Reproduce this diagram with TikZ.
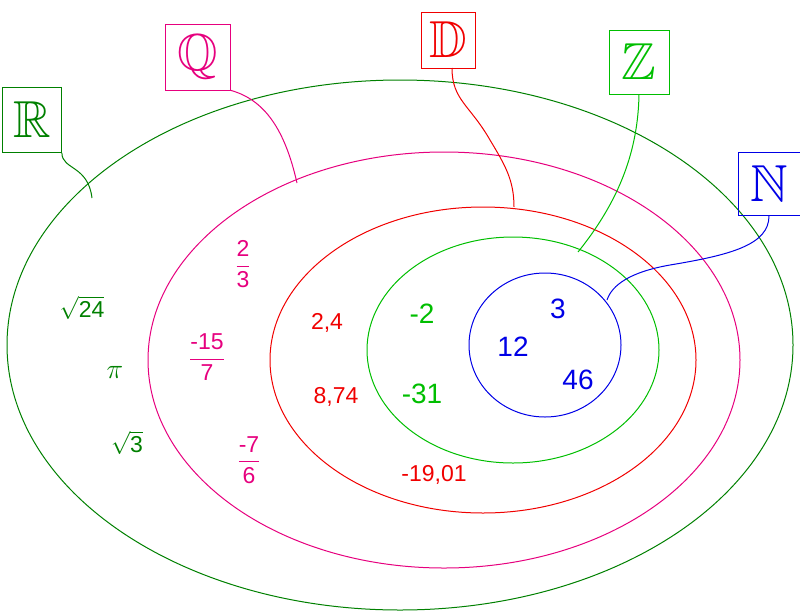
\RequirePackage{fix-cm}
\documentclass[tikz,border=0pt]{standalone}
\usepackage{amsmath,amssymb}
\usepackage{fontspec}
\setmainfont{Liberation Sans}
\definecolor{cR}{RGB}{0,128,0}
\definecolor{cQ}{RGB}{230,0,126}
\definecolor{cD}{RGB}{240,0,0}
\definecolor{cZ}{RGB}{0,190,0}
\definecolor{cN}{RGB}{0,0,230}
\tikzset{setbox/.style={draw,line width=0.8pt,minimum width=60pt,minimum height=62pt,inner sep=0pt,font=\fontsize{52}{52}\selectfont},
 num/.style={font=\fontsize{28}{30}\selectfont},
 snum/.style={font=\fontsize{23}{26}\selectfont}}
\begin{document}
\begin{tikzpicture}[x=1pt,y=-1pt,line width=1pt]
\useasboundingbox (0,0) rectangle (800,611);
\draw[cR] (400,345) ellipse [x radius=393,y radius=265];
\draw[cQ] (444,360) ellipse [x radius=296,y radius=208];
\draw[cD] (483,360) ellipse [x radius=213,y radius=153];
\draw[cZ] (513,350) ellipse [x radius=146,y radius=113];
\draw[cN] (545,345) ellipse [x radius=76,y radius=72];
\node[setbox,cR,minimum width=59pt,minimum height=65pt] (bR) at (32,120) {$\mathbb{R}$};
\node[setbox,cQ,minimum width=65pt,minimum height=66pt] (bQ) at (198,57) {$\mathbb{Q}$};
\node[setbox,cD,minimum width=54pt,minimum height=56pt] (bD) at (448,40) {$\mathbb{D}$};
\node[setbox,cZ,minimum width=60pt,minimum height=64pt] (bZ) at (639,62) {$\mathbb{Z}$};
\node[setbox,cN,minimum width=62pt,minimum height=63pt] (bN) at (769,184) {$\mathbb{N}$};
\coordinate (eR) at (92,198);
\coordinate (eQ) at (297,183);
\coordinate (eD) at (514,207);
\coordinate (eZ) at (578,252);
\coordinate (eN) at (607,300);
\draw[cR] (bR.south east) .. controls (62,170) and (88,165) .. (eR);
\draw[cQ] (bQ.south east) .. controls (265,100) and (285,130) .. (eQ);
\draw[cD] (452,68) .. controls (452,100) and (470,105) .. (490,140) .. controls (505,165) and (514,180) .. (eD);
\draw[cZ] (bZ.south) .. controls (638,150) and (620,200) .. (eZ);
\draw[cN] (bN.south) .. controls (769,245) and (730,255) .. (670,265) .. controls (630,272) and (612,285) .. (eN);
\node[cR,snum] (r1) at (82,308) {$\sqrt{\text{24}}$};
\node[cR,num] (r2) at (115,372) {$\pi$};
\node[cR,snum] (r3) at (127,443) {$\sqrt{\text{3}}$};
\node[cQ,snum] (q1) at (243,264) {$\dfrac{\text{2}}{\text{3}}$};
\node[cQ,snum] (q2) at (207,357) {$\dfrac{\text{-15}}{\text{7}}$};
\node[cQ,snum] (q3) at (249,460) {$\dfrac{\text{-7}}{\text{6}}$};
\node[cD,snum] (d1) at (327,323) {2,4};
\node[cD,snum] (d2) at (336,397) {8,74};
\node[cD,snum] (d3) at (434,475) {-19,01};
\node[cZ,num] (z1) at (422,314) {-2};
\node[cZ,num] (z2) at (422,394) {-31};
\node[cN,num] (n1) at (558,309) {3};
\node[cN,num] (n2) at (513,347) {12};
\node[cN,num] (n3) at (578,380) {46};
\end{tikzpicture}
\end{document}
